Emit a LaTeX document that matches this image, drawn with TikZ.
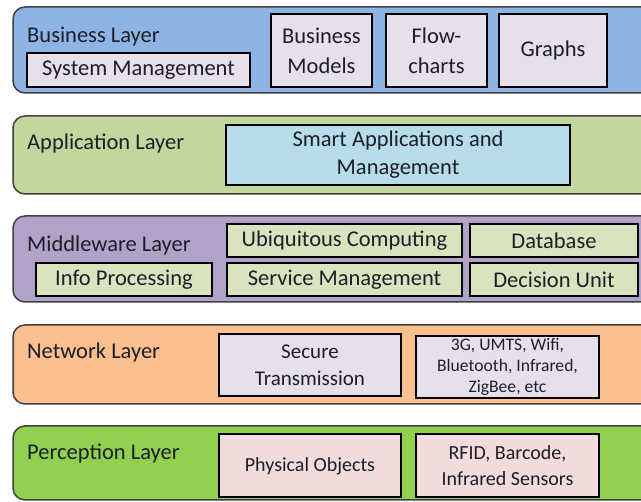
\documentclass[tikz,border=0pt]{standalone}
\usepackage{fontspec}
\setmainfont{Carlito}
\definecolor{busfill}{HTML}{8EB4E3}
\definecolor{appfill}{HTML}{C3D69B}
\definecolor{midfill}{HTML}{B3A2C7}
\definecolor{netfill}{HTML}{FAC090}
\definecolor{perfill}{HTML}{92D050}
\definecolor{lavender}{HTML}{E6E0EC}
\definecolor{aqua}{HTML}{B7DDE8}
\definecolor{paleolive}{HTML}{D7E4BD}
\definecolor{palerose}{HTML}{F2DCDB}
\definecolor{txt}{HTML}{1E1E2A}
\definecolor{layerline}{HTML}{404040}
\tikzset{
  layerbox/.style={draw=layerline, line width=1.5pt, rounded corners=12pt, inner sep=0pt},
  inbox/.style={draw=black, line width=2pt, inner sep=1pt, align=center, text=txt,
    font=\fontsize{22.5}{28}\selectfont},
  layerlabel/.style={anchor=base west, inner sep=0pt, text=txt,
    font=\fontsize{22.5}{28}\selectfont},
}
\begin{document}
\begin{tikzpicture}[x=1pt, y=-1pt]
\clip (0,0) rectangle (641,502);
\fill[white] (0,0) rectangle (641,502);
% layers
\node[layerbox, fill=busfill, minimum width=667pt, minimum height=86pt] (business) at (346.5,50) {};
\node[layerbox, fill=appfill, minimum width=667pt, minimum height=78pt] (application) at (346.5,155) {};
\node[layerbox, fill=midfill, minimum width=667pt, minimum height=86pt] (middleware) at (346.5,259) {};
\node[layerbox, fill=netfill, minimum width=667pt, minimum height=79pt] (network) at (346.5,364.5) {};
\node[layerbox, fill=perfill, minimum width=667pt, minimum height=74pt] (perception) at (346.5,463) {};
% labels
\node[layerlabel] (busl) at (27,43) {Business Layer};
\node[layerlabel] (appl) at (27,150) {Application Layer};
\node[layerlabel] (midl) at (27,252) {Middleware Layer};
\node[layerlabel] (netl) at (27,359) {Network Layer};
\node[layerlabel] (perl) at (27,460) {Perception Layer};
% business
\node[inbox, fill=lavender, minimum width=223pt, minimum height=34pt] (sysmgmt) at (138.5,70) {System Management};
\node[inbox, fill=lavender, minimum width=101pt, minimum height=73pt, font=\fontsize{22.5}{30}\selectfont] (busmodels) at (321.5,50.5) {Business\\Models};
\node[inbox, fill=lavender, minimum width=101pt, minimum height=73pt, font=\fontsize{22.5}{30}\selectfont] (flow) at (436.5,50.5) {Flow-\\charts};
\node[inbox, fill=lavender, minimum width=108pt, minimum height=73pt] (graphs) at (553,50.5) {Graphs};
% application
\node[inbox, fill=aqua, minimum width=344pt, minimum height=60pt] (smartapp) at (398,155) {Smart Applications and\\Management};
% middleware
\node[inbox, fill=paleolive, minimum width=235pt, minimum height=33pt] (ubiq) at (344.5,240.5) {Ubiquitous Computing};
\node[inbox, fill=paleolive, minimum width=168pt, minimum height=33pt] (database) at (554,240.5) {Database};
\node[inbox, fill=paleolive, minimum width=176pt, minimum height=33pt] (infoproc) at (124,279.5) {Info Processing};
\node[inbox, fill=paleolive, minimum width=235pt, minimum height=33pt] (servmgmt) at (344.5,279.5) {Service Management};
\node[inbox, fill=paleolive, minimum width=168pt, minimum height=33pt] (decision) at (554,279.5) {Decision Unit};
% network
\node[inbox, fill=lavender, minimum width=182pt, minimum height=62pt, font=\fontsize{21}{27}\selectfont] (secure) at (310,365) {Secure\\Transmission};
\node[inbox, fill=lavender, minimum width=183pt, minimum height=62pt, inner sep=0pt, font=\fontsize{17.6}{21}\selectfont] (wireless) at (507.5,367) {3G, UMTS, Wifi,\\Bluetooth, Infrared,\\ZigBee, etc};
% perception
\node[inbox, fill=palerose, minimum width=182pt, minimum height=63pt, font=\fontsize{20}{26}\selectfont] (physical) at (310,466) {Physical Objects};
\node[inbox, fill=palerose, minimum width=183pt, minimum height=63pt, font=\fontsize{20}{26}\selectfont] (rfid) at (507.5,466) {RFID, Barcode,\\Infrared Sensors};
\end{tikzpicture}
\end{document}
